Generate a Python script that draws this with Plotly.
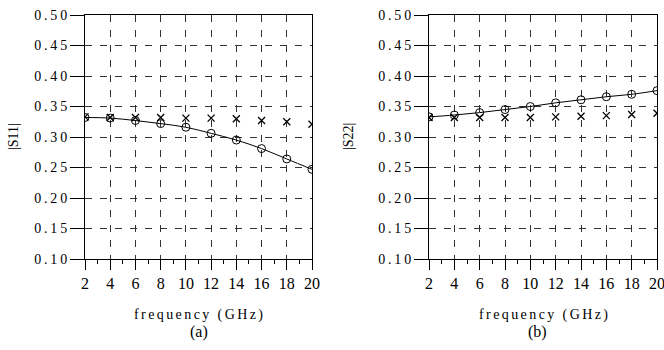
import plotly.graph_objects as go

freq = [2, 4, 6, 8, 10, 12, 14, 16, 18, 20]
s11_circ = [0.332, 0.331, 0.327, 0.322, 0.316, 0.306, 0.295, 0.281, 0.264, 0.247]
s11_cross = [0.333, 0.332, 0.332, 0.332, 0.331, 0.331, 0.330, 0.327, 0.325, 0.321]
s22_circ = [0.333, 0.336, 0.340, 0.345, 0.350, 0.356, 0.361, 0.366, 0.370, 0.376]
s22_cross = [0.332, 0.332, 0.332, 0.332, 0.332, 0.333, 0.334, 0.335, 0.337, 0.339]
x_ticks = [2, 4, 6, 8, 10, 12, 14, 16, 18, 20]
x_minor = [3, 5, 7, 9, 11, 13, 15, 17, 19]
y_ticks = [0.10, 0.15, 0.20, 0.25, 0.30, 0.35, 0.40, 0.45, 0.50]

FONT = "Liberation Serif"


def spaced(s, gap_px=None):
    sp = "\u2009" if gap_px is None else "<span style='font-size:%dpx'>\u2009</span>" % gap_px
    return sp.join(list(s))


fig = go.Figure()


def add_panel(xa, ya, circ, cross):
    fig.add_trace(go.Scatter(x=freq, y=circ, mode="lines+markers", xaxis=xa, yaxis=ya,
                             line=dict(color="black", width=1, shape="spline"),
                             marker=dict(symbol="circle-open", size=8, color="black", line=dict(width=1)),
                             showlegend=False))
    fig.add_trace(go.Scatter(x=freq, y=cross, mode="markers", xaxis=xa, yaxis=ya,
                             marker=dict(symbol="x-thin-open", size=7, color="black", line=dict(width=1.3)),
                             showlegend=False))


add_panel("x", "y", s11_circ, s11_cross)
add_panel("x2", "y2", s22_circ, s22_cross)

W, H = 664, 350
ydom = [1 - 259 / H, 1 - 15 / H]


def xaxis(dom, anchor):
    return dict(domain=dom, anchor=anchor, range=[2, 20], tickvals=x_ticks,
                ticktext=[str(v) for v in x_ticks], ticks="outside", ticklen=10, tickwidth=1,
                tickcolor="black", showline=True, linecolor="black", linewidth=1, mirror=True,
                showgrid=True, gridcolor="#333", gridwidth=1, griddash="7px,8px",
                zeroline=False, tickfont=dict(family=FONT, size=16, color="black"),
                ticklabeloverflow="allow",
                minor=dict(tickvals=x_minor, ticks="outside", ticklen=4,
                           tickcolor="black", showgrid=False))


def yaxis(anchor):
    return dict(domain=ydom, anchor=anchor, range=[0.10, 0.50], tickvals=y_ticks,
                ticktext=[spaced("%.2f" % v) for v in y_ticks], ticks="outside", ticklen=14, tickwidth=1,
                tickcolor="black", showline=True, linecolor="black", linewidth=1, mirror=True,
                showgrid=True, gridcolor="#333", gridwidth=1, griddash="7px,8px",
                zeroline=False, tickfont=dict(family=FONT, size=14, color="black"),
                ticklabeloverflow="allow")


fig.update_layout(
    width=W, height=H, margin=dict(l=0, r=0, t=0, b=0, pad=0, autoexpand=False),
    paper_bgcolor="white", plot_bgcolor="white",
    xaxis=xaxis([85 / W, 312 / W], "y"),
    yaxis=yaxis("x"),
    xaxis2=xaxis([429 / W, 657 / W], "y2"),
    yaxis2=yaxis("x2"),
)

ann = [
    dict(text="|S11|", x=13 / W, y=1 - 137 / H, textangle=-90, size=14),
    dict(text="|S22|", x=348 / W, y=1 - 137 / H, textangle=-90, size=14),
    dict(text=spaced("frequency (GHz)", 12), x=198.5 / W, y=1 - 315 / H, textangle=0, size=14),
    dict(text=spaced("frequency (GHz)", 12), x=543 / W, y=1 - 315 / H, textangle=0, size=14),
    dict(text="(a)", x=198.5 / W, y=1 - 332 / H, textangle=0, size=16),
    dict(text="(b)", x=537 / W, y=1 - 332 / H, textangle=0, size=16),
]
for a in ann:
    fig.add_annotation(xref="paper", yref="paper", showarrow=False, xanchor="center", yanchor="middle",
                       text=a["text"], x=a["x"], y=a["y"], textangle=a["textangle"],
                       font=dict(family=FONT, size=a["size"], color="black"))

fig.write_html("out.html")
